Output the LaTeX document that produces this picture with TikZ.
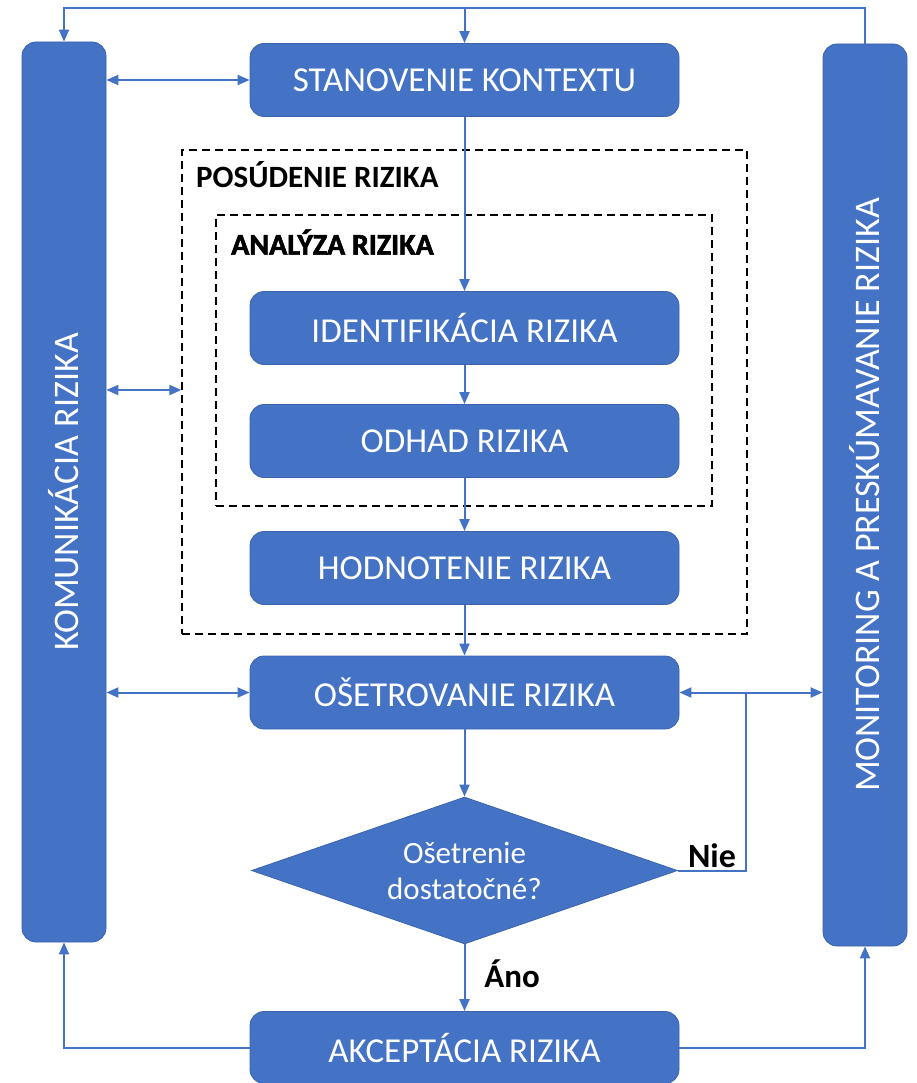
\documentclass[tikz,border=0pt]{standalone}
\usepackage{fontspec}
\setmainfont{Carlito}
\usetikzlibrary{arrows.meta,shapes.geometric,calc}
\definecolor{obl}{HTML}{4472C4}
\definecolor{obld}{HTML}{3B64AD}
\begin{document}
\begin{tikzpicture}[x=1pt,y=-1pt,
  box/.style={draw=obld,line width=0.8pt,fill=obl,rounded corners=14pt,minimum width=429pt,minimum height=73pt,inner sep=0pt,text=white,font=\fontsize{35}{40}\selectfont},
  bar/.style={draw=obld,line width=0.8pt,fill=obl,rounded corners=14pt,minimum width=84pt,inner sep=0pt},
  bartext/.style={text=white,font=\fontsize{36}{40}\selectfont,rotate=90},
  dashbox/.style={draw=black,dash pattern=on 8pt off 5pt,line width=1.3pt,inner sep=0pt},
  lbl/.style={font=\bfseries\fontsize{31}{36}\selectfont,text=black,inner sep=0pt},
  conn/.style={draw=obl,line width=2pt},
  arr/.style={conn,-{Triangle[length=12pt,width=10pt]}},
  darr/.style={conn,{Triangle[length=12pt,width=10pt]}-{Triangle[length=12pt,width=10pt]}}]
\useasboundingbox (0,0) rectangle (917,1083);
% side bars
\node[bar,minimum height=900pt] (lbar) at (64,492) {};
\node[bartext] (ltext) at (lbar.center) {KOMUNIKÁCIA RIZIKA};
\node[bar,minimum height=902pt] (rbar) at (865,495) {};
\node[bartext] (rtext) at (rbar.center) {MONITORING A PRESKÚMAVANIE RIZIKA};
% dashed frames
\node[dashbox,minimum width=565pt,minimum height=484pt] (pos) at (464.5,392) {};
\node[lbl,anchor=west] (posl) at (196,175) {POSÚDENIE RIZIKA};
\node[dashbox,minimum width=496pt,minimum height=291pt] (ana) at (464,360.5) {};
\node[lbl,anchor=west,font=\bfseries\fontsize{30}{36}\selectfont\addfontfeature{FakeBold=2}] (anal) at (231,242) {ANALÝZA RIZIKA};
% boxes
\node[box] (stan) at (464.5,80) {STANOVENIE KONTEXTU};
\node[box] (iden) at (464.5,328) {IDENTIFIKÁCIA RIZIKA};
\node[box] (odh) at (464.5,441) {ODHAD RIZIKA};
\node[box] (hod) at (464.5,568) {HODNOTENIE RIZIKA};
\node[box] (ose) at (464.5,692.5) {OŠETROVANIE RIZIKA};
\node[draw=obld,line width=0.8pt,fill=obl,diamond,aspect=2.9,minimum width=426pt,minimum height=147pt,inner sep=0pt,text=white,align=center,font=\fontsize{31}{36}\selectfont] (dia) at (464.5,870.5) {Ošetrenie\\dostatočné?};
\node[box,minimum height=72pt] (akc) at (464.5,1047.5) {AKCEPTÁCIA RIZIKA};
% labels
\node[lbl,font=\bfseries\fontsize{34}{36}\selectfont] (nie) at (712,856) {Nie};
\node[lbl,font=\bfseries\fontsize{33}{36}\selectfont] (ano) at (512,974) {Áno};
% connectors
\coordinate (topL) at (64,8);
\draw[arr] (rbar.north) |- (topL) -- (lbar.north);
\draw[arr] (stan.north |- topL) -- (stan.north);
\draw[darr] (lbar.east |- stan.west) -- (stan.west);
\draw[darr] (lbar.east |- 0,390) -- (pos.west |- 0,390);
\draw[darr] (lbar.east |- ose.west) -- (ose.west);
\draw[darr] (ose.east) -- (rbar.west |- ose.east);
\coordinate (j) at (746,692.5);
\draw[conn] (dia.east) -| (j);
\draw[arr] (stan.south) -- (iden.north);
\draw[arr] (iden.south) -- (odh.north);
\draw[arr] (odh.south) -- (hod.north);
\draw[arr] (hod.south) -- (ose.north);
\draw[arr] (ose.south) -- (dia.north);
\draw[arr] (dia.south) -- (akc.north);
\draw[arr] (akc.west) -| (lbar.south);
\draw[arr] (akc.east) -| (rbar.south);
\end{tikzpicture}
\end{document}
